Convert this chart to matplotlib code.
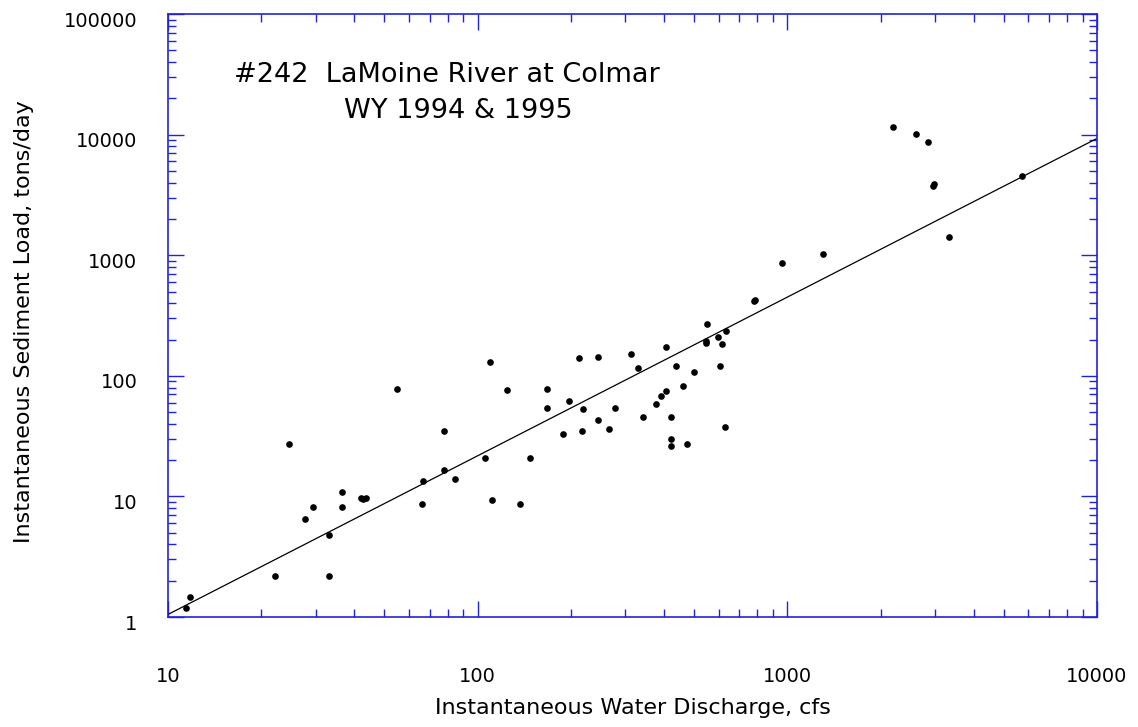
import matplotlib
matplotlib.use('Agg')
import matplotlib.pyplot as plt
import matplotlib.ticker as ticker
import matplotlib.transforms as mtransforms

plt.rcParams['font.family'] = ['DejaVu Sans']

# instantaneous water discharge (cfs) and sediment load (tons/day)
discharge = [11.4, 11.8, 24.6, 22.2, 27.8, 29.5, 33.1, 33.1, 36.5, 36.5,
             42.0, 42.7, 43.7, 55.0, 66.7, 66.2, 78.0, 78.0, 84.3, 106,
             110, 111, 124, 137, 148, 167, 167, 189, 197, 212,
             219, 218, 245, 244, 266, 278, 313, 329, 341, 376,
             390, 405, 407, 422, 422, 422, 437, 460, 473, 501,
             545, 545, 550, 596, 605, 616, 633, 630, 780, 786,
             961, 1300, 2190, 2600, 2850, 2950, 2975, 3330, 5710]
load = [1.18, 1.47, 27.4, 2.18, 6.46, 8.12, 4.81, 2.18, 10.9, 8.21,
        9.70, 9.57, 9.64, 77.3, 13.4, 8.65, 34.7, 16.6, 13.9, 20.7,
        130, 9.39, 76.3, 8.65, 20.9, 78.2, 53.8, 32.7, 61.4, 140,
        52.8, 34.9, 144, 43.3, 36.0, 53.8, 152, 115, 45.5, 58.0,
        67.6, 74.8, 174, 45.5, 29.9, 26.0, 121, 82.3, 27.0, 108,
        187, 194, 267, 211, 121, 182, 237, 37.8, 418, 428,
        862, 1020, 11600, 10100, 8630, 3760, 3890, 1420, 4560]

# regression line end points
fit_q = [10, 10000]
fit_load = [1.05, 9300]

x_ticks = [10, 100, 1000, 10000]
x_labels = ['10', '100', '1000', '10000']
y_ticks = [1, 10, 100, 1000, 10000, 100000]
y_labels = ['1', '10', '100', '1000', '10000', '100000']

frame_col = '#2222dd'

fig = plt.figure(figsize=(11.38, 7.27), dpi=100)
ax = fig.add_axes([0.1476, 0.1513, 0.8164, 0.8294])

ax.plot(fit_q, fit_load, color='black', lw=0.9)
ax.plot(discharge, load, 'o', color='black', ms=4.8, mew=0)

ax.set_xscale('log')
ax.set_yscale('log')
ax.set_xlim(10, 10000)
ax.set_ylim(1, 100000)

ax.set_xticks(x_ticks, x_labels)
ax.set_yticks(y_ticks, y_labels)
ax.xaxis.set_minor_locator(ticker.LogLocator(base=10, subs=range(2, 10)))
ax.yaxis.set_minor_locator(ticker.LogLocator(base=10, subs=range(2, 10)))
ax.xaxis.set_minor_formatter(ticker.NullFormatter())
ax.yaxis.set_minor_formatter(ticker.NullFormatter())

ax.tick_params(which='both', direction='in', top=True, right=True,
               color=frame_col, width=1.0, labelsize=14)
ax.tick_params(which='major', length=11.5)
ax.tick_params(which='minor', length=5.8)
ax.tick_params(axis='x', pad=36)
ax.tick_params(axis='y', pad=22)
for s in ax.spines.values():
    s.set_color(frame_col)
    s.set_linewidth(1.2)

# y tick labels sit a little below their ticks
off = mtransforms.ScaledTranslation(0, -5 / 100, fig.dpi_scale_trans)
for lab in ax.get_yticklabels():
    lab.set_transform(lab.get_transform() + off)

ax.set_xlabel('Instantaneous Water Discharge, cfs', fontsize=16)
ax.xaxis.set_label_coords(0.5, -0.134)
ax.set_ylabel('Instantaneous Sediment Load, tons/day', fontsize=16)
ax.yaxis.set_label_coords(-0.1442, 0.49)

ax.text(0.071, 0.8867, '#242  LaMoine River at Colmar', transform=ax.transAxes,
        fontsize=19.5, va='baseline', ha='left')
ax.text(0.1894, 0.827, 'WY 1994 & 1995', transform=ax.transAxes,
        fontsize=19.5, va='baseline', ha='left')

fig.savefig('out.png', dpi=100)
